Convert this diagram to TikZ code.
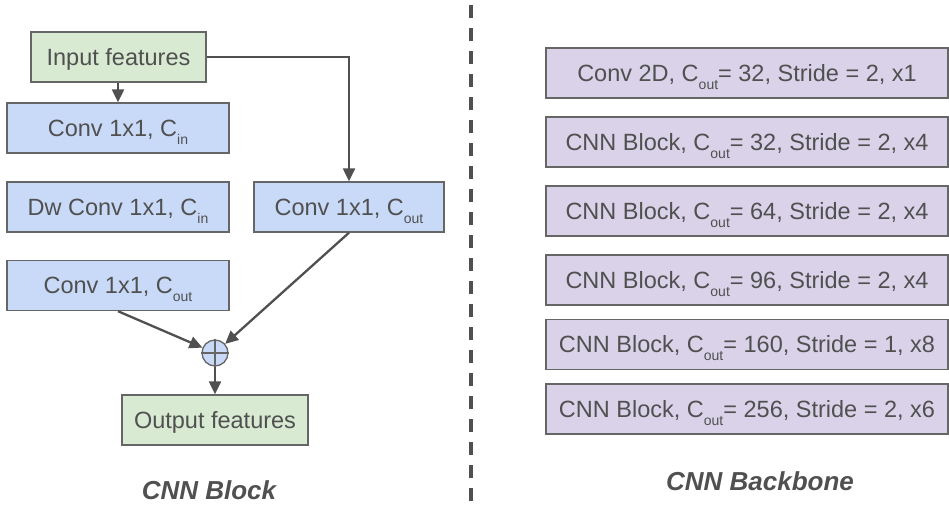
\documentclass[tikz,border=0pt]{standalone}
\usepackage{fontspec}
\setmainfont{Liberation Sans}
\usetikzlibrary{arrows.meta}
\definecolor{bluefill}{HTML}{C9DAF8}
\definecolor{greenfill}{HTML}{D9EAD3}
\definecolor{purplefill}{HTML}{D9D2E9}
\definecolor{boxline}{HTML}{666666}
\definecolor{txt}{HTML}{505050}
\definecolor{arrowc}{HTML}{505050}
\newcommand\subt[1]{\raisebox{-8pt}[0pt][0pt]{\fontsize{14}{14}\selectfont #1}}
\tikzset{
  blk/.style={draw=boxline, line width=1.4pt, inner sep=0pt, text=txt,
    font=\fontsize{23.5}{24}\selectfont, text height=16.8pt, text depth=0pt,
    minimum height=50pt},
  bluebox/.style={blk, fill=bluefill},
  greenbox/.style={blk, fill=greenfill},
  purplebox/.style={blk, fill=purplefill, minimum width=402pt},
  conn/.style={draw=arrowc, line width=2.3pt, -{Triangle[length=13pt,width=12pt]}},
  title/.style={text=txt, font=\fontsize{26}{26}\selectfont\bfseries\itshape,
    inner sep=0pt, text height=19pt, text depth=0pt},
  sep/.style={draw=arrowc, line width=3.5pt, dash pattern=on 13pt off 10pt}
}
\begin{document}
\begin{tikzpicture}[x=1pt,y=-1pt]
\useasboundingbox (0,0) rectangle (949,504);
% CNN Block
\node[greenbox, minimum width=175pt] (inp) at (118.5,57) {Input features};
\node[bluebox, minimum width=222pt] (c1) at (118,128) {Conv 1x1, C\subt{in}};
\node[bluebox, minimum width=222pt] (dw) at (118,207) {Dw Conv 1x1, C\subt{in}};
\node[bluebox, minimum width=190pt] (cr) at (349,207) {Conv 1x1, C\subt{out}};
\node[bluebox, minimum width=222pt] (c3) at (118,285.5) {Conv 1x1, C\subt{out}};
\node[circle, draw=boxline, line width=1.3pt, fill=bluefill, minimum size=26pt, inner sep=0pt] (plus) at (215,353) {};
\draw[boxline, line width=1.3pt] (plus.north) -- (plus.south) (plus.west) -- (plus.east);
\node[greenbox, minimum width=186pt] (out) at (215,420) {Output features};
\node[title] (lblock) at (209,489.5) {CNN Block};
\draw[conn] (inp.south -| c1.north) -- (c1.north);
\draw[conn] (inp.east) -| (cr.north);
\draw[conn] (cr.south) -- (plus);
\draw[conn] (c3.south) -- (plus);
\draw[conn] (plus) -- (out);
% separator
\coordinate (s1) at (471,5);
\coordinate (s2) at (471,504);
\draw[sep] (s1) -- (s2);
% CNN Backbone
\node[purplebox] (b1) at (747,73) {Conv 2D, C\subt{out}= 32, Stride = 2, x1};
\node[purplebox] (b2) at (747,142) {CNN Block, C\subt{out}= 32, Stride = 2, x4};
\node[purplebox] (b3) at (747,211) {CNN Block, C\subt{out}= 64, Stride = 2, x4};
\node[purplebox] (b4) at (747,280) {CNN Block, C\subt{out}= 96, Stride = 2, x4};
\node[purplebox] (b5) at (747,344.5) {CNN Block, C\subt{out}= 160, Stride = 1, x8};
\node[purplebox] (b6) at (747,409) {CNN Block, C\subt{out}= 256, Stride = 2, x6};
\node[title] (lback) at (760,481) {CNN Backbone};
\end{tikzpicture}
\end{document}
